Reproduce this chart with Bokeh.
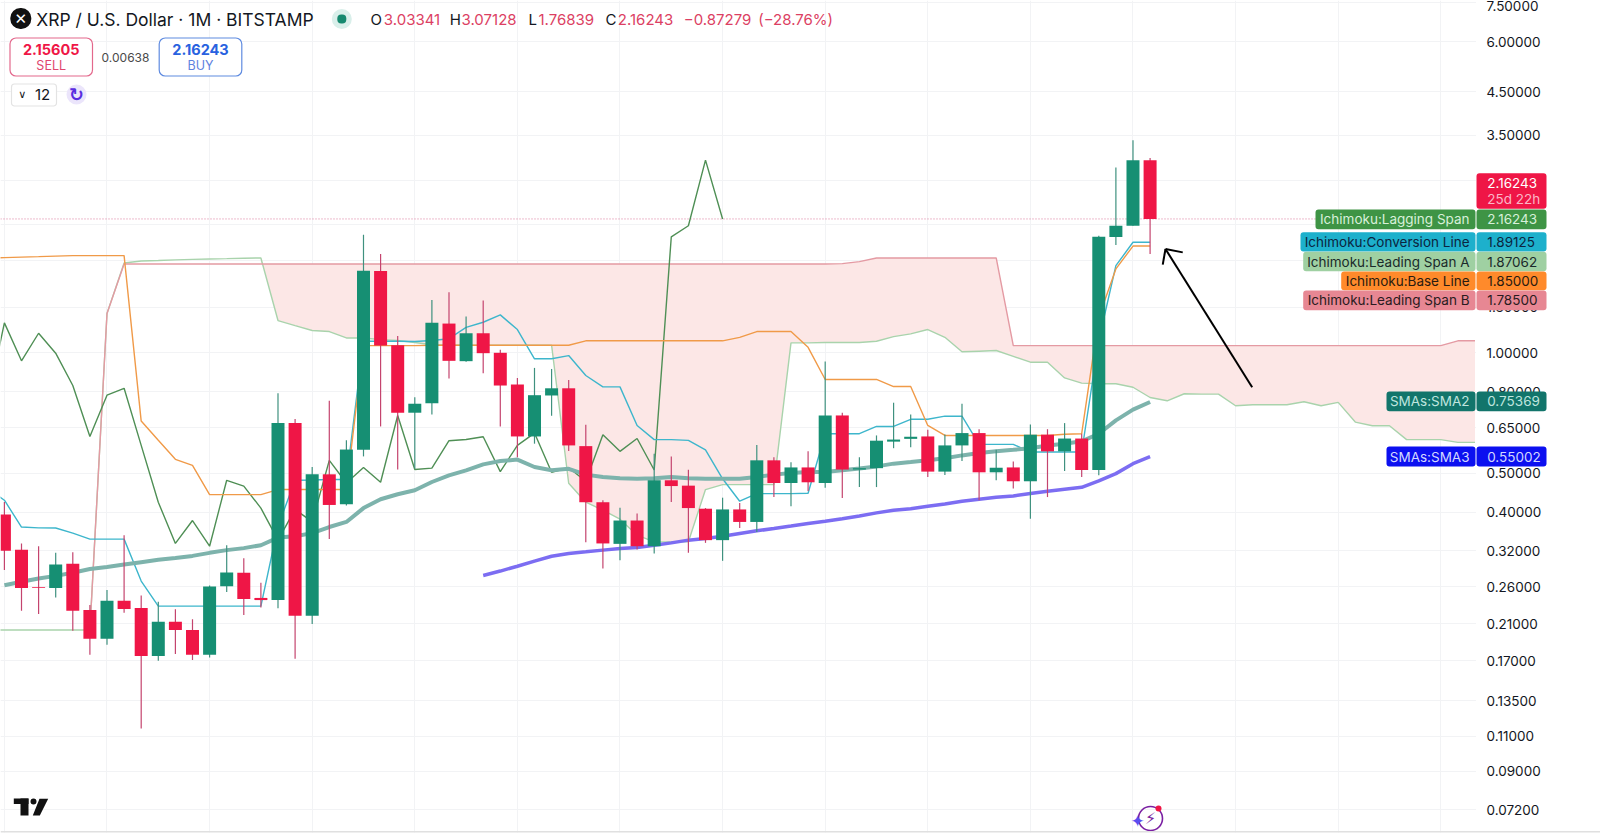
from bokeh.plotting import figure
from bokeh.models import (ColumnDataSource, FixedTicker, PrintfTickFormatter, Label, BoxAnnotation,
                          PolyAnnotation, Span, Arrow)
from bokeh.embed import file_html
from bokeh.resources import INLINE

# ---- data -------------------------------------------------------------
candle_side = "RRRGRRGRRGRRGGRRGRGRGGRRGGRGRRRGGRRRGRGRRRGRGRGRGRGGGGRGGRGRGRGRGGGR"
candle_high = [.4240,.3339,.3286,.3163,.3176,.2341,.2553,.3501,.2475,.2387,
 .2286,.2159,.2622,.3305,.3066,.2662,.7932,.6840,.5184,.7590,
 .6045,1.9745,1.7672,1.1028,.7748,1.3568,1.4175,1.2324,1.3514,1.0180,
 .8660,.9173,.9117,.8556,.6614,.4282,.4103,.3966,.5599,.5511,
 .5107,.4093,.4345,.4216,.5882,.5488,.5326,.5674,.9518,.7087,
 .5488,.6218,.7507,.7018,.6428,.6255,.7463,.6443,.5723,.5348,
 .6625,.6445,.6676,.6280,1.9628,2.9070,3.4035,3.07128]
candle_low = [.2864,.2267,.2224,.2446,.2021,.1759,.1863,.2241,.1150,.1700,
 .1766,.1707,.1732,.2524,.2211,.2309,.2300,.1718,.2100,.3424,
 .4152,.5511,.6548,.5110,.5132,.7018,.8624,.9501,.8898,.6548,
 .5488,.5930,.6964,.5684,.3364,.2889,.3033,.3226,.3152,.4240,
 .3163,.3350,.3021,.3649,.3568,.4361,.4135,.4517,.4602,.4335,
 .4619,.4619,.5778,.5813,.4892,.4950,.5366,.4282,.4803,.4583,
 .3851,.4361,.5067,.4892,.4941,1.8610,2.0796,1.76839]
body_top = [.3944,.3219,.2596,.2958,.2969,.2276,.2400,.2400,.2304,.2128,
 .2128,.2030,.2607,.2826,.2820,.2440,.6676,.6676,.4971,.4971,
 .5733,1.6058,1.6030,1.0450,.7463,1.1888,1.1840,1.1198,1.1198,1.0006,
 .8337,.7839,.8157,.8157,.5847,.4233,.3810,.3810,.4803,.4803,
 .4657,.4078,.4061,.4061,.5388,.5388,.5172,.5172,.6976,.6976,
 .5150,.6033,.6072,.6171,.6182,.5871,.6303,.6303,.5163,.5172,
 .6245,.6245,.6108,.6108,1.9513,2.0796,3.03341,3.03341]
body_bottom = [.3200,.2585,.2585,.2585,.2267,.1928,.1928,.2290,.1746,.1746,
 .2030,.1759,.1759,.2611,.2426,.2410,.2410,.2202,.2202,.4167,
 .4184,.5723,1.0431,.7087,.7087,.7489,.9554,.9535,.9984,.8288,
 .6182,.6182,.7826,.5871,.4233,.3339,.3331,.3286,.3286,.4646,
 .4093,.3403,.3403,.3779,.3779,.4729,.4729,.4748,.4729,.5110,
 .5110,.5150,.6000,.6097,.5049,.5049,.5871,.5029,.5029,.4776,
 .4776,.5674,.5674,.5096,.5096,1.9479,2.0796,2.16243]

span_a = [.2029,.2029,.2029,.2029,.2029,.2029,.2029,1.2541,1.6784,1.6979,
 1.7028,1.7087,1.7135,1.7175,1.7205,1.7245,1.7275,1.2047,1.1702,1.1374,
 1.1309,1.0899,1.0899,1.0797,1.0739,1.0616,1.048,1.047,1.046,1.046,
 1.045,1.045,1.045,1.045,.4721,.4233,.4043,.384,.3501,.3370,
 .3370,.3370,.4553,.4685,.4685,.4685,.4685,1.0597,1.0597,1.0616,
 1.0616,1.0616,1.0696,1.0983,1.1158,1.1440,1.0938,1.0063,1.0100,1.0139,
 .9807,.9480,.9480,.8660,.8401,.8371,.8371,.8205,.7735,.7590,
 .7904,.7886,.7886,.7376,.7420,.7420,.7420,.7551,.7376,.7520,
 .6715,.6575,.6575,.6069,.6069,.6069,.5976,.5976]   # index -1 .. 86
span_b = [.2029,1.2541,   # index 5, 6
 1.6685,1.6685,1.6685,1.6685,1.6685,1.6685,1.6685,1.6685,1.6685,1.6685,
 1.6685,1.6685,1.6685,1.6685,1.6685,1.6685,1.6685,1.6685,1.6685,1.6685,
 1.6685,1.6685,1.6685,1.6685,1.6685,1.6685,1.6685,1.6685,1.6685,1.6685,
 1.6685,1.6685,1.6685,1.6685,1.6685,1.6685,1.6685,1.6685,1.6685,1.6685,
 1.6685,1.6685,1.6715,1.6910,1.7275,1.7275,1.7275,1.7275,1.7275,1.7275,
 1.7275,1.7275,1.0431,1.0431,1.0431,1.0431,1.0431,1.0431,1.0431,1.0431,
 1.0431,1.0431,1.0431,1.0431,1.0431,1.0431,1.0431,1.0431,1.0431,1.0431,
 1.0431,1.0431,1.0431,1.0431,1.0431,1.0431,1.0431,1.0431,1.0721,1.0721]   # .. index 86
conversion = [.4583,.4282,.3670,.3653,.3649,.3543,.3423,.3423,.3423,.2689,
 .2327,.2327,.2327,.2327,.2327,.2327,.2327,.3686,.4803,.4811,
 .4823,.4823,1.0696,1.0696,1.0696,1.0677,1.0739,1.0853,1.1585,1.1930,
 1.2446,1.1440,.9667,.9667,.9848,.8779,.8225,.8225,.6586,.6069,
 .6069,.6045,.5723,.4845,.4258,.4449,.4449,.4449,.4457,.6280,
 .6280,.6280,.6548,.6548,.6824,.6824,.6947,.6947,.5906,.5906,
 .5906,.5652,.5652,.5652,.5652,1.0739,1.6520,1.89125,1.89125]   # index -1 .. 67
base_line = [1.7255,1.7304,1.7354,1.7403,1.7453,1.7504,1.7504,1.7504,1.7504,.6754,
 .6045,.5419,.5233,.4423,.4423,.4423,.4423,.4553,.4553,.4553,
 .4553,.4553,1.0431,1.0431,1.0431,1.0431,1.0450,1.0450,1.0450,1.0450,
 1.0450,1.0450,1.0450,1.0450,1.0450,1.0721,1.0721,1.0721,1.0721,1.0721,
 1.0721,1.0721,1.0721,1.0721,1.0938,1.1309,1.1309,1.1309,1.0327,.8582,
 .8582,.8582,.8582,.8239,.8239,.6586,.6218,.6218,.6218,.6218,
 .6218,.6218,.6218,.6260,.6280,1.2276,1.6215,1.85,1.85]   # index -1 .. 67
sma2 = [.2626,.2678,.2728,.2770,.2820,.2881,.2917,.2958,.2998,.3038,
 .3071,.3108,.3163,.3213,.3250,.3305,.3453,.3480,.3543,.3670,
 .3779,.4093,.4307,.4431,.4535,.4756,.4941,.5087,.5264,.5366,
 .5410,.5184,.5087,.5132,.4962,.4892,.4863,.4845,.4863,.4892,
 .4863,.4845,.4845,.4845,.4892,.4962,.5008,.5038,.5038,.5087,
 .5140,.5203,.5286,.5335,.5388,.5455,.5543,.5618,.5674,.5723,
 .5778,.5871,.5930,.6010,.6280,.6781,.7212,.75369]   # index 0 .. 67
sma3 = [.2777,.2848,.2929,.3016,.3102,.3152,.3182,.3213,.3244,.3262,
 .3305,.3350,.3403,.3436,.3480,.3535,.3590,.3640,.3692,.3745,
 .3795,.3851,.3911,.3981,.4043,.4078,.4135,.4191,.4258,.4307,
 .4354,.4389,.4449,.4509,.4561,.4613,.4784,.4991,.5286,.55002]   # index 28 .. 67

y_ticks = [.072,.09,.11,.135,.17,.21,.26,.32,.4,.5,.65,.8,1.0,1.3,1.7,2.1,2.7,3.5,4.5,6.0,7.5]
grid_months = [0,6,12,18,24,30,36,42,48,54,60,66,72,78,84]
last_price = 2.16243
arrow_shaft = ((72.97, .8205), (67.9, 1.819))
arrow_arm_a = ((68.91, 1.784), (67.9, 1.819))
arrow_arm_b = ((67.74, 1.662), (67.9, 1.819))

title_text = "XRP / U.S. Dollar · 1M · BITSTAMP"
ohlc_text = ["O","3.03341","H","3.07128","L","1.76839","C","2.16243","−0.87279","(−28.76%)"]
sell_price, spread, buy_price = "2.15605", "0.00638", "2.16243"
left_tags = ["Ichimoku:Lagging Span","Ichimoku:Conversion Line","Ichimoku:Leading Span A",
             "Ichimoku:Base Line","Ichimoku:Leading Span B","SMAs:SMA2","SMAs:SMA3"]
tag_values = ["2.16243","1.89125","1.87062","1.85000","1.78500","0.75369","0.55002"]

# ---- figure -----------------------------------------------------------
W, H = 1600, 838
FONT = "Inter"
AXIS_AT = 86.03
p = figure(width=W, height=H, x_range=(-0.228, 93.34), y_range=(0.06108, 7.605), y_axis_type="log",
           y_axis_location="right", toolbar_location=None, output_backend="svg",
           min_border=0, outline_line_color=None,
           background_fill_color="white", border_fill_color="white")
p.xaxis.visible = False
p.xgrid.ticker = FixedTicker(ticks=grid_months)
p.xgrid.grid_line_color = "#F2F3F5"
p.yaxis.ticker = FixedTicker(ticks=y_ticks)
p.yaxis.fixed_location = AXIS_AT
p.ygrid.grid_line_color = "#F2F3F5"
p.yaxis.formatter = PrintfTickFormatter(format="%.5f")
p.yaxis.axis_line_color = None
p.yaxis.major_tick_line_color = None
p.yaxis.minor_tick_line_color = None
p.yaxis.major_tick_out = 0
p.yaxis.major_label_standoff = 11
p.yaxis.major_label_text_font = FONT
p.yaxis.major_label_text_font_size = "13.5px"
p.yaxis.major_label_text_color = "#131722"

# cloud
cloud_x = list(range(15, 87))
p.varea(x=cloud_x, y1=span_a[16:], y2=span_b[10:], fill_color="#FCE7E6")
# lines
p.line(list(range(-1, 87)), span_a, line_color="#A9D3AC", line_width=1.4)
p.line(list(range(5, 87)), span_b, line_color="#E49AA3", line_width=1.4)
closes = [t if u == "G" else b for t, b, u in zip(body_top, body_bottom, candle_side)]
p.line(list(range(-1, 43)), closes[24:], line_color="#4F8F55", line_width=1.4)
p.line(list(range(-1, 68)), conversion, line_color="#3DB6CC", line_width=1.4)
p.line(list(range(-1, 68)), base_line, line_color="#F09A48", line_width=1.4)
p.line(list(range(0, 68)), sma2, line_color="#7DB3AC", line_width=4)
p.line(list(range(28, 68)), sma3, line_color="#7C6DF2", line_width=3.5)

# candles
def subset(flag):
    ids = [i for i, u in enumerate(candle_side) if u == flag]
    return ColumnDataSource(dict(x=ids, hi=[candle_high[i] for i in ids], lo=[candle_low[i] for i in ids],
                                 top=[body_top[i] for i in ids], bot=[body_bottom[i] for i in ids]))
for flag, body, wick in (("G", "#168F73", "#3F917F"), ("R", "#EF1646", "#C4446E")):
    src = subset(flag)
    p.segment(x0="x", y0="lo", x1="x", y1="hi", source=src, line_color=wick, line_width=1.2)
    p.vbar(x="x", bottom="bot", top="top", width=0.76, source=src, fill_color=body, line_color=None)

p.add_layout(Span(location=last_price, dimension="width", line_color="#D9789A", line_dash="1 2", line_width=1, level="underlay"))
for start, end in (arrow_shaft, arrow_arm_a, arrow_arm_b):
    p.add_layout(Arrow(end=None, x_start=start[0], y_start=start[1], x_end=end[0], y_end=end[1],
                       line_color="black", line_width=2))

# ---- overlays in page pixels -------------------------------------------
def box(l, t, r, b, fill=None, line=None, radius=0, lw=1, level="annotation"):
    p.add_layout(BoxAnnotation(left=l, right=r, top=H-t, bottom=H-b, left_units="screen", right_units="screen",
                               top_units="screen", bottom_units="screen", fill_color=fill, fill_alpha=1 if fill else 0,
                               line_color=line, line_alpha=1 if line else 0, line_width=lw,
                               border_radius=int(round(radius)), level=level))

def text(x, y, s, size=13, color="#131722", align="left", font=FONT, style="normal"):
    p.add_layout(Label(x=x, y=H-y, x_units="screen", y_units="screen", text=s, text_font=font,
                       text_font_size=f"{size}px", text_color=color, text_align=align,
                       text_baseline="middle", text_font_style=style))

def disc(cx, cy, r, fill=None, line=None, lw=1):
    box(cx-r, cy-r, cx+r, cy+r, fill, line, r, lw)

# the price scale column and the strip under the bottom rule carry no grid
box(1475.5, 0, 1600, 838, "white", level="underlay")
box(0, 832, 1600, 838, "white", level="underlay")

# header
disc(20.3, 18, 10.5, fill="#111111")
text(20.3, 18.5, "✕", 15, "white", "center", "DejaVu Sans", "bold")
text(35.7, 18.5, title_text, 17.5)
disc(341.3, 18.5, 10, fill="#D9EFEA")
disc(341.3, 18.5, 4.5, fill="#16896F")
o_x = [370, 383.3, 449.3, 461, 528, 538, 605, 617.3, 683.3, 757.7]
for i, (x, s) in enumerate(zip(o_x, ohlc_text)):
    text(x, 18.5, s, 15, "#131722" if (i % 2 == 0 and i < 8) else "#DC3F63")

# buy / sell
box(9.5, 37.5, 92, 75.5, "white", "#E3688C", 6, 1.2)
text(50.7, 49, sell_price, 14.5, "#EF1646", "center", style="bold")
text(50.7, 65, "SELL", 12.5, "#E0466E", "center")
text(125, 56.7, spread, 12, "#4A4A4A", "center")
box(158.7, 37.5, 241.3, 75.5, "white", "#5F8BE0", 6, 1.2)
text(200, 49, buy_price, 14.5, "#2962E0", "center", style="bold")
text(200, 65, "BUY", 12.5, "#5F82DE", "center")
box(11, 83.5, 56, 105.5, "white", "#E3E3E3", 3, 1.2)
text(21.7, 94, "∨", 11, "#131722", "center", "DejaVu Sans")
text(42, 94, "12", 15, "#131722", "center")
disc(76, 94, 10, fill="#EBE5FB")
text(76, 94, "↻", 18, "#5A2DE0", "center", "DejaVu Sans", "bold")

# price tags
box(1476, 172.7, 1546, 208.3, "#EF1646", None, 3)
text(1486.7, 182.5, "2.16243", 13.5, "white")
text(1486.7, 198, "25d 22h", 13.5, "#FBB6C6")
tag_rows = [(1315, 209, 228.7, "#3E9445", "#D8F0DA"), (1300, 231.7, 251, "#1DB0CC", "#0B2540"),
            (1302.7, 251.3, 270.7, "#9FD0A2", "#1B2A2A"), (1340.7, 271, 289.7, "#FF8A2B", "#2A1B10"),
            (1302.7, 290, 309.7, "#E78793", "#2A1B20"), (1386, 391, 410.7, "#12756B", "#BFE5DF"),
            (1386, 446, 466, "#0C10F0", "#D3D8FF")]
for (left, top, bot, fill, fg), name, val in zip(tag_rows, left_tags, tag_values):
    box(left, top, 1475, bot, fill, None, 3)
    box(1476, top, 1546, bot, fill, None, 3)
    text(1469, (top+bot)/2, name, 13.5, fg, "right")
    text(1486.7, (top+bot)/2, val, 13.5, fg)

# logo
box(13.3, 798, 28, 803.5, "#111111")
box(20, 798, 28, 815, "#111111")
disc(33, 801, 3, fill="#111111")
p.add_layout(PolyAnnotation(xs=[39, 47.7, 39.3, 32.3], ys=[H-798.3, H-798.3, H-815, H-815], xs_units="screen", ys_units="screen",
                            fill_color="#111111", fill_alpha=1, line_alpha=0))
# spark icon
disc(1150, 818, 12, None, "#7A1FA2", 1.6)
text(1150, 818, "⚡", 16, "#7A1FA2", "center", "DejaVu Sans")
text(1137, 820.5, "✦", 17, "#5A4DF0", "center", "DejaVu Sans")
disc(1158, 808, 3, fill="#EF1646")
# bottom rule
box(0, 830.5, 1600, 832, "#E0E0E0")

open("out.html", "w").write(file_html(p, INLINE))
